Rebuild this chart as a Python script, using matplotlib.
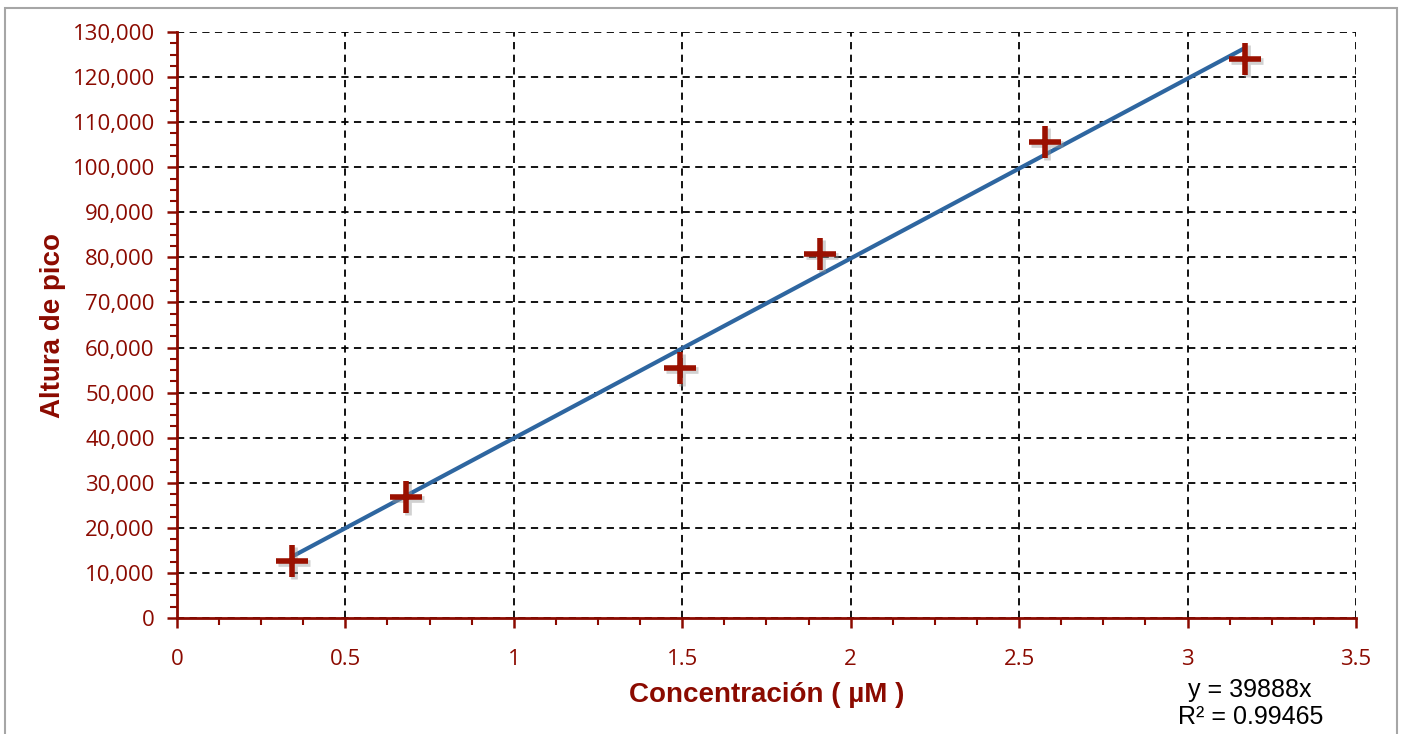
import matplotlib
matplotlib.use("Agg")
import matplotlib.pyplot as plt
from matplotlib.ticker import MultipleLocator, FuncFormatter
from matplotlib.patches import Rectangle
import numpy as np

# Calibration data
concentracion = [0.341, 0.680, 1.493, 1.909, 2.577, 3.170]
altura_pico = [12600, 26800, 55400, 80700, 105600, 124000]
pendiente = 39888
r2 = 0.99465

x_ticks = [0, 0.5, 1, 1.5, 2, 2.5, 3, 3.5]
x_tick_labels = ["0", "0.5", "1", "1.5", "2", "2.5", "3", "3.5"]

dark_red = "#8b0a00"
line_blue = "#2e66a0"

fig = plt.figure(figsize=(14.02, 7.34), dpi=100)
ax = fig.add_axes([0.1262, 0.158, 0.8410, 0.7984])

# outer chart frame
fig.patches.append(Rectangle((5 / 1402, -0.05), (1397 - 5) / 1402, 1 - 8 / 734 + 0.05,
                             transform=fig.transFigure, fill=False,
                             edgecolor="#a6a6a6", linewidth=1.5))

ax.set_xlim(0, 3.5)
ax.set_ylim(0, 130000)

ax.xaxis.set_minor_locator(MultipleLocator(0.125))
ax.yaxis.set_major_locator(MultipleLocator(10000))
ax.yaxis.set_minor_locator(MultipleLocator(2500))
ax.set_xticks(x_ticks)
ax.set_xticklabels(x_tick_labels)
ax.yaxis.set_major_formatter(FuncFormatter(lambda v, p: f"{int(v):,}"))

ax.grid(True, which="major", color="black", linestyle=(0, (4, 3)), linewidth=1.3)
ax.set_axisbelow(True)

for side in ("top", "right"):
    ax.spines[side].set_visible(False)
for side in ("left", "bottom"):
    ax.spines[side].set_color(dark_red)
    ax.spines[side].set_linewidth(2)

ax.tick_params(which="major", direction="out", length=7, width=1.8, color=dark_red,
               labelcolor=dark_red, labelsize=16)
ax.tick_params(axis="y", which="major", pad=9)
ax.tick_params(axis="x", which="major", pad=15)
ax.tick_params(which="minor", direction="out", length=5, width=1.5, color=dark_red)
for lab in ax.get_xticklabels() + ax.get_yticklabels():
    lab.set_fontfamily("Open Sans")

# trend line through the origin, spanning the measured range
xf = np.array([min(concentracion), max(concentracion)])
ax.plot(xf, pendiente * xf, color=line_blue, linewidth=3, zorder=3,
        solid_capstyle="butt")

# markers with a soft shadow
shadow_off = matplotlib.transforms.offset_copy(ax.transData, fig=fig, x=2, y=-2, units="dots")
ax.plot(concentracion, altura_pico, linestyle="none", marker="+", markersize=23,
        markeredgewidth=4.8, color="#999999", alpha=0.45, transform=shadow_off, zorder=3)
ax.plot(concentracion, altura_pico, linestyle="none", marker="+", markersize=23,
        markeredgewidth=4.0, color="#9a1000", zorder=4)

ax.set_xlabel("Concentración ( µM )", fontsize=20, fontweight="bold",
              color=dark_red, family="Liberation Sans", labelpad=9)
ax.set_ylabel("Altura de pico", fontsize=20, fontweight="bold",
              color=dark_red, family="Liberation Sans", labelpad=5)

fig.text(1250 / 1402, 1 - 690 / 734, f"y = {pendiente}x", ha="center", va="center",
         fontsize=18, family="Liberation Sans", color="black")
fig.text(1251 / 1402, 1 - 717 / 734, f"R² = {r2}", ha="center", va="center",
         fontsize=18, family="Liberation Sans", color="black")

fig.savefig("out.png", dpi=100)
